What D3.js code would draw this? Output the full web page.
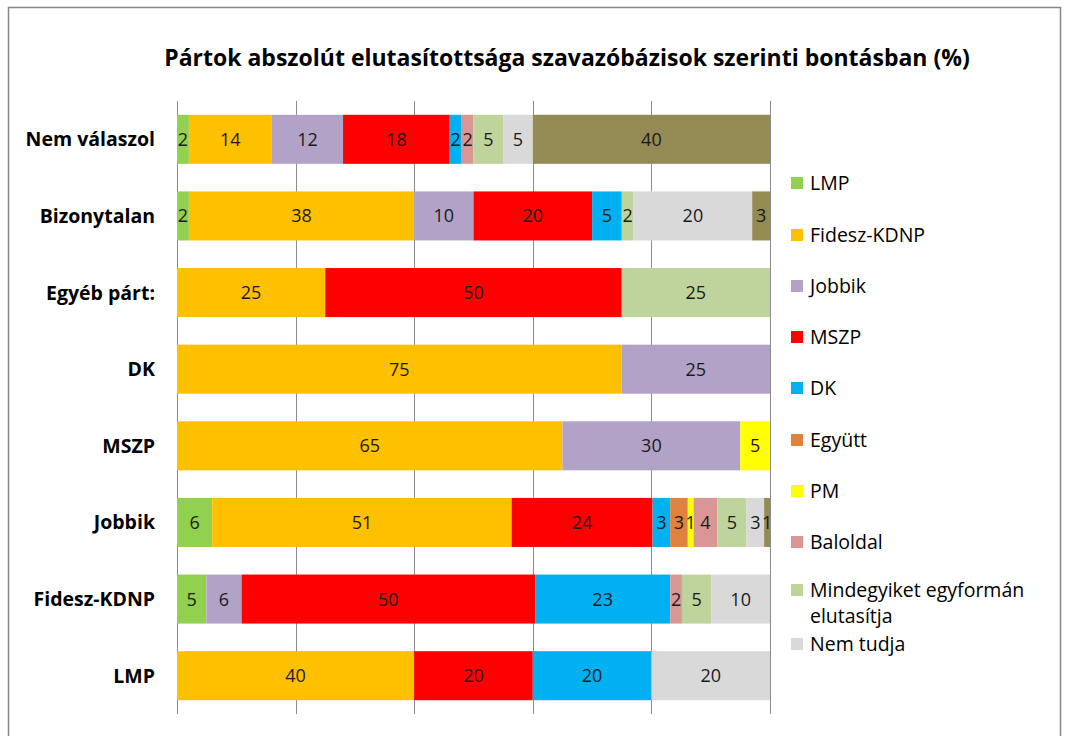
<!DOCTYPE html>
<html><head><meta charset="utf-8">
<script src="https://cdn.jsdelivr.net/npm/d3@7"></script>
<style>body{margin:0;background:#fff;} svg{display:block;font-family:"Open Sans", sans-serif;}</style>
</head><body>
<svg id="c" width="1067" height="736"></svg>
<script>
const title = "Pártok abszolút elutasítottsága szavazóbázisok szerinti bontásban (%)";
const categories = ["Nem válaszol","Bizonytalan","Egyéb párt:","DK","MSZP","Jobbik","Fidesz-KDNP","LMP"];
const seriesNames = ["LMP","Fidesz-KDNP","Jobbik","MSZP","DK","Együtt","PM","Baloldal","Mindegyiket egyformán elutasítja","Nem tudja","Nem válaszol"];
const seriesColors = ["#92D050","#FFC000","#B2A2C7","#FF0000","#00B0F0","#E0823D","#FFFF00","#D99694","#BFD49C","#D9D9D9","#948A54"];
// values per category, in series order
const vNemValaszol = [2,14,12,18,2,0,0,2,5,5,40];
const vBizonytalan = [2,38,10,20,5,0,0,0,2,20,3];
const vEgyeb      = [0,25,0,50,0,0,0,0,25,0,0];
const vDK         = [0,75,25,0,0,0,0,0,0,0,0];
const vMSZP       = [0,65,30,0,0,0,5,0,0,0,0];
const vJobbik     = [6,51,0,24,3,3,1,4,5,3,1];
const vFidesz     = [5,0,6,50,23,0,0,2,5,10,0];
const vLMP        = [0,40,0,20,20,0,0,0,0,20,0];
const rows = [vNemValaszol,vBizonytalan,vEgyeb,vDK,vMSZP,vJobbik,vFidesz,vLMP];
const xTicks = [0,20,40,60,80,100];

const svg = d3.select("#c");
svg.append("rect").attr("x",8.5).attr("y",7.5).attr("width",1052).attr("height",740)
  .attr("fill","#fff").attr("stroke","#868686").attr("stroke-width",1.5);

svg.append("text").attr("x",567).attr("y",66).attr("text-anchor","middle")
  .attr("font-weight","bold").attr("font-size",23).attr("fill","#000").text(title);

const x = d3.scaleLinear().domain([0,100]).range([177,770]);
const y = d3.scaleBand().domain(categories).range([101,714]).paddingInner(0.36).paddingOuter(0.18);

// gridlines
svg.append("g").selectAll("line").data(xTicks).join("line")
  .attr("x1",d=>Math.round(x(d))+0.5).attr("x2",d=>Math.round(x(d))+0.5)
  .attr("y1",101).attr("y2",714).attr("stroke","#8c8c8c").attr("stroke-width",1);

// bars
categories.forEach((cat,i)=>{
  const vals = rows[i];
  const total = d3.sum(vals);
  let cum = 0;
  const g = svg.append("g");
  vals.forEach((v,j)=>{
    if(!v) return;
    const x0 = x(cum/total*100), x1 = x((cum+v)/total*100);
    cum += v;
    g.append("rect").attr("x",x0).attr("y",y(cat)).attr("width",x1-x0).attr("height",y.bandwidth())
      .attr("fill",seriesColors[j]);
    g.append("text").attr("x",(x0+x1)/2).attr("y",y(cat)+y.bandwidth()/2).attr("dy","0.36em")
      .attr("text-anchor","middle").attr("font-size",18).attr("fill","#1a1a1a").text(v);
  });
});

// category labels
svg.append("g").selectAll("text").data(categories).join("text")
  .attr("x",155).attr("y",d=>y(d)+y.bandwidth()/2).attr("dy","0.36em")
  .attr("text-anchor","end").attr("font-weight","bold").attr("font-size",19.5).attr("fill","#000").text(d=>d);

// legend (first 10 entries visible)
const legendY = [183,235,286,337,388,440,491,542,590,644];
const lg = svg.append("g");
legendY.forEach((ly,i)=>{
  lg.append("rect").attr("x",791).attr("y",ly-6).attr("width",12).attr("height",12).attr("fill",seriesColors[i]);
  const t = lg.append("text").attr("x",810).attr("y",ly).attr("dy","0.36em").attr("font-size",19.5).attr("fill","#000");
  if(i===8){
    t.append("tspan").attr("x",810).text("Mindegyiket egyformán");
    t.append("tspan").attr("x",810).attr("dy","1.35em").text("elutasítja");
  } else t.text(seriesNames[i]);
});
</script>
</body></html>
